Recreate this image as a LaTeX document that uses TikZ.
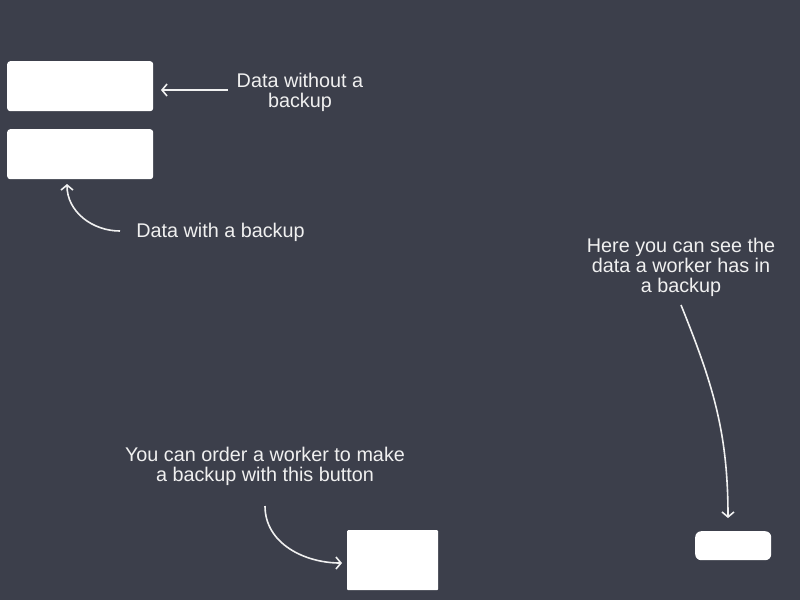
\documentclass[tikz,border=0pt]{standalone}
\usepackage{fontspec}
\setmainfont{Liberation Sans}
\usetikzlibrary{arrows.meta}
\definecolor{bgdark}{HTML}{3C3F4B}
\definecolor{txtlight}{HTML}{F0F0F0}

\begin{document}
\begin{tikzpicture}[x=1pt, y=-1pt,
  every node/.style={font=\fontsize{19.8}{20}\selectfont, text=txtlight, align=center, inner sep=0pt},
  panel/.style={fill=white, draw=none, rounded corners=3pt, minimum width=#1, anchor=north west},
  note/.style={draw=txtlight, line width=1.6pt, -{Straight Barb[length=5pt,width=12pt,line width=1.6pt]}}]
\fill[bgdark] (0,0) rectangle (800,600);
\useasboundingbox (0,0) rectangle (800,600);
% boxes
\node[panel=146pt, minimum height=50pt] (nobk) at (7,61) {};
\node[panel=146pt, minimum height=50pt] (withbk) at (7,129) {};
\node[panel=91pt, minimum height=60pt, rounded corners=1pt] (btn) at (347,530) {};
\node[panel=76pt, minimum height=29pt, rounded corners=6pt] (wbk) at (695,531) {};
% labels
\node (lnobk) at (300,92.5) {Data without a\\backup};
\node (lwithbk) at (220.5,232.5) {Data with a backup};
\node (lwbk) at (681,267.5) {Here you can see the\\data a worker has in\\a backup};
\node (lbtn) at (265,466.5) {You can order a worker to make\\a backup with this button};
% arrow ends
\coordinate (a1) at (228,90);
\coordinate (a2) at (120,231);
\coordinate (a3) at (681,305);
\coordinate (a4) at (265,506);
\coordinate (t1) at (161,90);
\coordinate (t2) at (67,184);
\coordinate (t3) at (728,518);
\coordinate (t4) at (342,563);
\draw[note] (a1) -- (t1);
\draw[note] (a2) to[out=180, in=-90] (t2);
\draw[note] (a3) to[out=-68, in=90] (t3);
\draw[note] (a4) to[out=-90, in=180] (t4);
\end{tikzpicture}
\end{document}
